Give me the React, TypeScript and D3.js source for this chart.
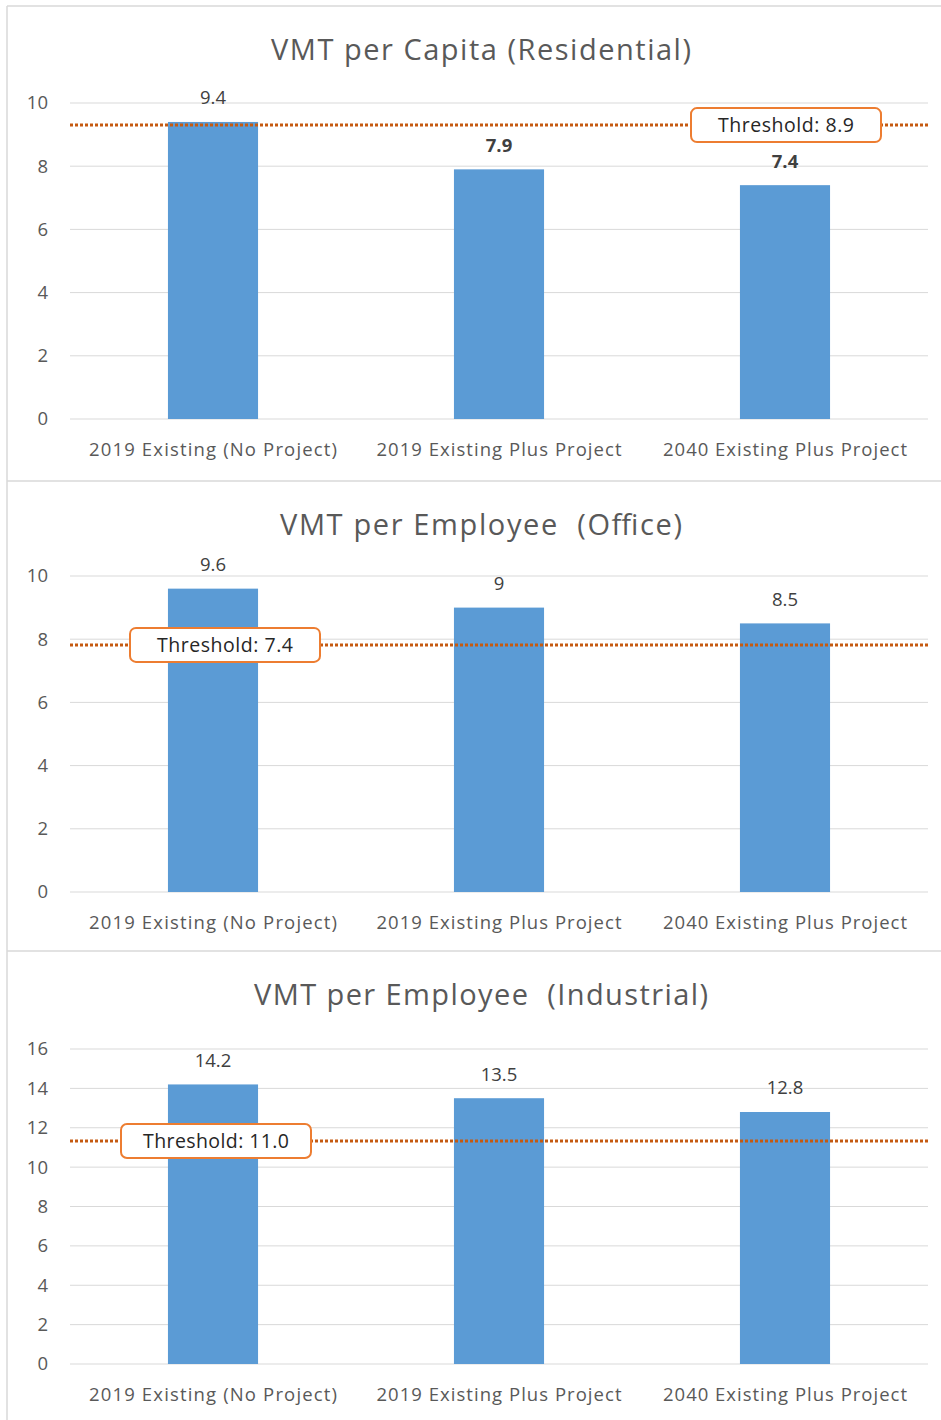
import React from "react";
import * as d3 from "d3";

const categories = [
  "2019 Existing (No Project)",
  "2019 Existing Plus Project",
  "2040 Existing Plus Project",
];
const titles = [
  "VMT per Capita (Residential)",
  "VMT per Employee  (Office)",
  "VMT per Employee  (Industrial)",
];
const residentialValues = [9.4, 7.9, 7.4];
const officeValues = [9.6, 9, 8.5];
const industrialValues = [14.2, 13.5, 12.8];
const valueLabels = [
  ["9.4", "7.9", "7.4"],
  ["9.6", "9", "8.5"],
  ["14.2", "13.5", "12.8"],
];
const boldLabels = [
  [false, true, true],
  [false, false, false],
  [false, false, false],
];
const thresholdLabels = ["Threshold: 8.9", "Threshold: 7.4", "Threshold: 11.0"];
// where the dotted line is drawn in the picture (value units)
const thresholdLineValues = [9.3, 7.82, 11.33];
const yMax = [10, 10, 16];
const yTicks = [
  [0, 2, 4, 6, 8, 10],
  [0, 2, 4, 6, 8, 10],
  [0, 2, 4, 6, 8, 10, 12, 14, 16],
];

const seriesValues = [residentialValues, officeValues, industrialValues];

// layout
const W = 941;
const H = 1420;
const panelTops = [6, 481, 951];
const plotTops = [103, 576, 1049];
const plotBottoms = [419, 892, 1364];
const boxCenters = [786, 225, 216];
const titleWidths = [420, 402, 454];
const thresholdTextWidths = [136, 136, 146];
const catLabelWidths = [248, 245, 244];
const plotLeft = 70;
const plotRight = 928;
const FONT = "'Open Sans', 'DejaVu Sans', sans-serif";

function Panel({ i }: { i: number }) {
  const x = d3
    .scaleBand<string>()
    .domain(categories)
    .range([plotLeft, plotRight])
    .paddingInner(0.685)
    .paddingOuter(0.3425);
  const y = d3
    .scaleLinear()
    .domain([0, yMax[i]])
    .range([plotBottoms[i], plotTops[i]]);
  const values = seriesValues[i];
  const ty = y(thresholdLineValues[i]);
  const bw = 190;
  const bh = 34;
  return (
    <g>
      <text
        x={481}
        y={panelTops[i] + 54}
        textAnchor="middle"
        fontSize={29}
        fill="#595959"
        fontFamily={FONT}
        textLength={titleWidths[i]}
        lengthAdjust="spacing"
        style={{ whiteSpace: "pre" }}
      >
        {titles[i]}
      </text>
      {yTicks[i].map((t) => (
        <g key={t}>
          <line
            x1={plotLeft}
            x2={plotRight}
            y1={y(t)}
            y2={y(t)}
            stroke="#D9D9D9"
            strokeWidth={1}
          />
          <text
            x={48}
            y={y(t)}
            dy="0.35em"
            textAnchor="end"
            fontSize={18.5}
            fill="#595959"
            fontFamily={FONT}
          >
            {t}
          </text>
        </g>
      ))}
      {categories.map((c, j) => (
        <g key={c}>
          <rect
            x={x(c)!}
            y={y(values[j])}
            width={x.bandwidth()}
            height={y(0) - y(values[j])}
            fill="#5B9BD5"
          />
          <text
            x={x(c)! + x.bandwidth() / 2}
            y={y(values[j]) - 24}
            dy="0.35em"
            textAnchor="middle"
            fontSize={18.5}
            fontWeight={boldLabels[i][j] ? "bold" : "normal"}
            fill="#404040"
            fontFamily={FONT}
          >
            {valueLabels[i][j]}
          </text>
          <text
            x={x(c)! + x.bandwidth() / 2}
            y={plotBottoms[i] + 31}
            dy="0.35em"
            textAnchor="middle"
            fontSize={18.5}
            fill="#595959"
            fontFamily={FONT}
            textLength={catLabelWidths[j]}
            lengthAdjust="spacing"
          >
            {c}
          </text>
        </g>
      ))}
      <line
        x1={plotLeft}
        x2={plotRight}
        y1={ty}
        y2={ty}
        stroke="#C55A11"
        strokeWidth={3}
        strokeDasharray="3 2"
      />
      <rect
        x={boxCenters[i] - bw / 2}
        y={ty - bh / 2}
        width={bw}
        height={bh}
        rx={6}
        fill="#FFFFFF"
        stroke="#ED7D31"
        strokeWidth={2}
      />
      <text
        x={boxCenters[i]}
        y={ty}
        dy="0.35em"
        textAnchor="middle"
        fontSize={19.5}
        fill="#262626"
        fontFamily={FONT}
        textLength={thresholdTextWidths[i]}
        lengthAdjust="spacing"
      >
        {thresholdLabels[i]}
      </text>
    </g>
  );
}

export default function App() {
  return (
    <div style={{ position: "absolute", left: 0, top: 0 }}>
      <svg width={W} height={H} style={{ display: "block", background: "#fff" }}>
        <rect x={0} y={0} width={W} height={H} fill="#FFFFFF" />
        <line x1={7} x2={7} y1={6} y2={H} stroke="#D9D9D9" strokeWidth={1.5} />
        {panelTops.map((t) => (
          <line key={t} x1={7} x2={W} y1={t} y2={t} stroke="#D9D9D9" strokeWidth={1.5} />
        ))}
        {[0, 1, 2].map((i) => (
          <Panel key={i} i={i} />
        ))}
      </svg>
    </div>
  );
}
